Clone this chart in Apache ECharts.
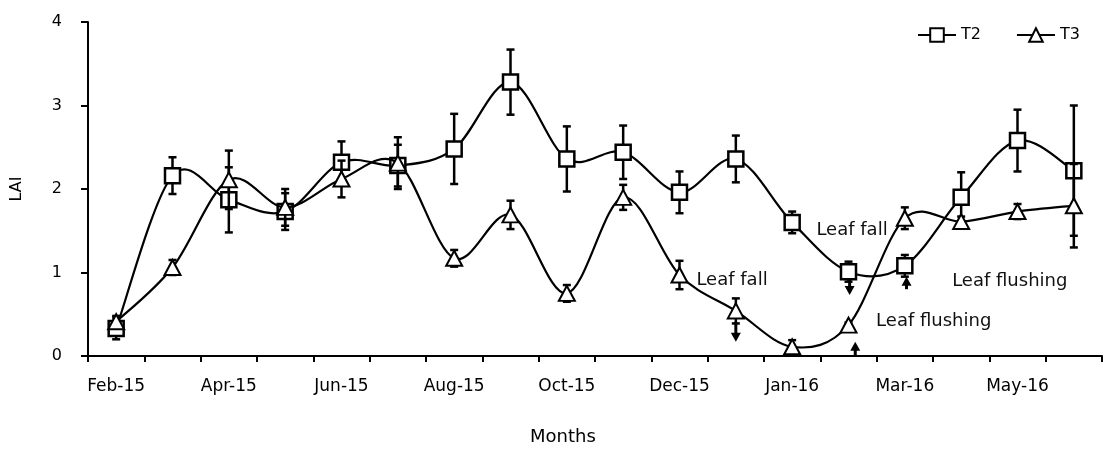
<!DOCTYPE html>
<html>
<head>
<meta charset="utf-8">
<script src="https://cdn.jsdelivr.net/npm/echarts@6/dist/echarts.min.js"></script>
<style>
  html, body { margin: 0; padding: 0; background: #fff; }
  #chart { width: 1106px; height: 450px; }
</style>
</head>
<body>
<div id="chart"></div>
<script>
// Sampling months (one point per month)
const months = ['Feb-15','Mar-15','Apr-15','May-15','Jun-15','Jul-15','Aug-15','Sep-15','Oct-15',
                'Nov-15','Dec-15','Jan-16','Feb-16','Mar-16','Apr-16','May-16','Jun-16','Jul-16'];
// Labels printed under the axis (every other tick)
const tickLabels = ['Feb-15','','Apr-15','','Jun-15','','Aug-15','','Oct-15','',
                    'Dec-15','','Jan-16','','Mar-16','','May-16',''];
const yTicks = [0, 1, 2, 3, 4];

// Leaf area index, mean and error
const t2 = [0.33, 2.16, 1.87, 1.73, 2.32, 2.28, 2.48, 3.28, 2.36, 2.44, 1.96, 2.36, 1.60, 1.01, 1.08, 1.90, 2.58, 2.22];
const t2Err = [0.13, 0.22, 0.39, 0.22, 0.25, 0.25, 0.42, 0.39, 0.39, 0.32, 0.25, 0.28, 0.13, 0.12, 0.13, 0.30, 0.37, 0.78];
const t3 = [0.41, 1.06, 2.11, 1.78, 2.12, 2.31, 1.17, 1.69, 0.75, 1.90, 0.97, 0.54, 0.11, 0.37, 1.65, 1.61, 1.73, 1.80];
const t3Err = [0.07, 0.09, 0.35, 0.22, 0.22, 0.31, 0.10, 0.17, 0.10, 0.15, 0.17, 0.15, 0.08, 0.03, 0.13, 0.06, 0.09, 0.50];

// Phenology notes: [x position (month index), LAI, text]
const notes = [
  [10.30, 0.91, 'Leaf fall'],
  [12.43, 1.51, 'Leaf fall'],
  [13.49, 0.41, 'Leaf flushing'],
  [14.84, 0.90, 'Leaf flushing']
];
// Arrows: [x position (month index), from LAI, to LAI (tip)]
const arrows = [
  [11.00, 0.41, 0.17],
  [13.02, 0.91, 0.73],
  [13.12, -0.01, 0.17],
  [14.03, 0.80, 0.95]
];

const FONT = 'DejaVu Sans';
const chart = echarts.init(document.getElementById('chart'));

function errorBars(values, errs) {
  return values.map((v, i) => [i, v, errs[i]]);
}

function renderErr(params, api) {
  const x = api.value(0), y = api.value(1), e = api.value(2);
  const top = api.coord([x, y + e]);
  const bot = api.coord([x, y - e]);
  const w = 4;
  const st = { stroke: '#000', lineWidth: 2.5 };
  return {
    type: 'group',
    children: [
      { type: 'line', shape: { x1: top[0], y1: top[1], x2: bot[0], y2: bot[1] }, style: st },
      { type: 'line', shape: { x1: top[0] - w, y1: top[1], x2: top[0] + w, y2: top[1] }, style: st },
      { type: 'line', shape: { x1: bot[0] - w, y1: bot[1], x2: bot[0] + w, y2: bot[1] }, style: st }
    ]
  };
}

// Smooth curve segment between point i and i+1 (Catmull-Rom as cubic Bezier)
function curveRenderer(values) {
  return function (params, api) {
    const i = params.dataIndex;
    const n = values.length;
    if (i >= n - 1) return null;
    const pt = j => api.coord([Math.max(0, Math.min(n - 1, j)), values[Math.max(0, Math.min(n - 1, j))]]);
    const p0 = pt(i - 1), p1 = pt(i), p2 = pt(i + 1), p3 = pt(i + 2);
    const c1 = [p1[0] + (p2[0] - p0[0]) / 6, p1[1] + (p2[1] - p0[1]) / 6];
    const c2 = [p2[0] - (p3[0] - p1[0]) / 6, p2[1] - (p3[1] - p1[1]) / 6];
    return {
      type: 'bezierCurve',
      shape: { x1: p1[0], y1: p1[1], x2: p2[0], y2: p2[1],
               cpx1: c1[0], cpy1: c1[1], cpx2: c2[0], cpy2: c2[1] },
      style: { stroke: '#000', lineWidth: 2.2, fill: null }
    };
  };
}

function renderArrow(params, api) {
  const x = api.value(0);
  const p0 = api.coord([x, api.value(1)]);
  const p1 = api.coord([x, api.value(2)]);
  const dir = p1[1] > p0[1] ? 1 : -1;
  const headLen = 9, headW = 5;
  const base = p1[1] - dir * headLen;
  return {
    type: 'group',
    children: [
      { type: 'line', shape: { x1: p0[0], y1: p0[1], x2: p0[0], y2: base + dir }, style: { stroke: '#000', lineWidth: 3 } },
      { type: 'polygon', shape: { points: [[p1[0] - headW, base], [p1[0] + headW, base], [p1[0], p1[1]]] }, style: { fill: '#000' } }
    ]
  };
}

function renderNote(params, api) {
  const p = api.coord([api.value(0), api.value(1)]);
  return {
    type: 'text',
    x: p[0], y: p[1],
    style: {
      text: notes[params.dataIndex][2],
      fill: '#111',
      font: '18px "' + FONT + '"',
      textAlign: 'left',
      textVerticalAlign: 'middle'
    }
  };
}

const legendLine = { color: '#000', width: 2, opacity: 1 };

chart.setOption({
  animation: false,
  backgroundColor: '#fff',
  textStyle: { fontFamily: FONT, color: '#000' },
  grid: { left: 88, right: 4, top: 22, bottom: 94, containLabel: false },
  legend: {
    left: 912, top: 22,
    itemWidth: 38, itemHeight: 17, itemGap: 35,
    textStyle: { fontFamily: FONT, fontSize: 16, color: '#000' },
    data: [
      { name: 'T2', lineStyle: legendLine },
      { name: 'T3', lineStyle: legendLine }
    ]
  },
  xAxis: [{
    type: 'category',
    data: months,
    boundaryGap: true,
    axisLine: { lineStyle: { color: '#000', width: 2 } },
    axisTick: { show: true, interval: 0, length: 6, lineStyle: { color: '#000', width: 2 } },
    axisLabel: {
      interval: 0, margin: 22, fontSize: 17, color: '#000', fontFamily: FONT,
      formatter: (v, i) => tickLabels[i]
    },
    splitLine: { show: false }
  }, {
    type: 'value', min: -0.5, max: months.length - 0.5, show: false
  }],
  yAxis: {
    type: 'value', min: yTicks[0], max: yTicks[yTicks.length - 1], interval: 1,
    name: 'LAI', nameLocation: 'middle', nameGap: 63, nameRotate: 90,
    nameTextStyle: { fontSize: 16, color: '#000', fontFamily: FONT },
    axisLine: { show: true, onZero: false, lineStyle: { color: '#000', width: 2 } },
    axisTick: { show: true, length: 7, lineStyle: { color: '#000', width: 2 } },
    axisLabel: { margin: 26, fontSize: 16, color: '#000', fontFamily: FONT },
    splitLine: { show: false }
  },
  graphic: [{
    type: 'text', left: 530, top: 428,
    style: { text: 'Months', font: '18px "' + FONT + '"', fill: '#000' }
  }],
  series: [
    {
      type: 'custom', name: 'T2 error', renderItem: renderErr,
      data: errorBars(t2, t2Err), z: 2, silent: true
    },
    {
      type: 'custom', name: 'T2 curve', renderItem: curveRenderer(t2),
      data: t2.map((v, i) => [i, v]), z: 2, silent: true
    },
    {
      name: 'T2', type: 'line', data: t2,
      symbol: 'rect', symbolSize: 15, z: 3,
      lineStyle: { color: '#000', width: 2, opacity: 0 },
      itemStyle: { color: '#fff', borderColor: '#000', borderWidth: 2.5 }
    },
    {
      type: 'custom', name: 'T3 error', renderItem: renderErr,
      data: errorBars(t3, t3Err), z: 4, silent: true
    },
    {
      type: 'custom', name: 'T3 curve', renderItem: curveRenderer(t3),
      data: t3.map((v, i) => [i, v]), z: 4, silent: true
    },
    {
      name: 'T3', type: 'line', data: t3,
      symbol: 'triangle', symbolSize: [16, 15], z: 5,
      lineStyle: { color: '#000', width: 2, opacity: 0 },
      itemStyle: { color: '#fff', borderColor: '#000', borderWidth: 2 }
    },
    {
      type: 'custom', name: 'arrows', xAxisIndex: 1, renderItem: renderArrow,
      data: arrows, z: 6, silent: true
    },
    {
      type: 'custom', name: 'notes', xAxisIndex: 1, renderItem: renderNote,
      data: notes.map(n => [n[0], n[1]]), z: 7, silent: true
    }
  ]
});
</script>
</body>
</html>
